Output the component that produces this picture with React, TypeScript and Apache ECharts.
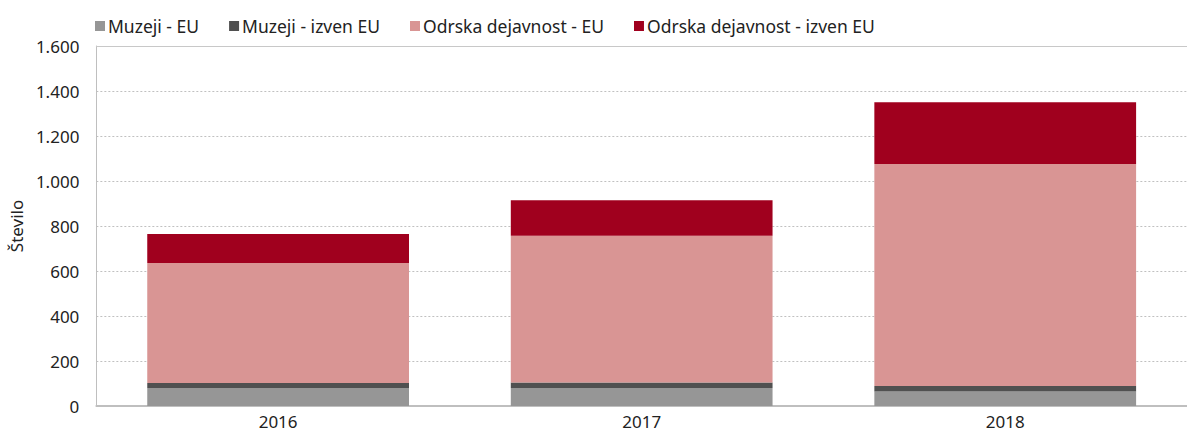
import React, { useEffect, useRef } from "react";
import * as echarts from "echarts";

const categories = ["2016", "2017", "2018"];
const seriesNames = ["Muzeji - EU", "Muzeji - izven EU", "Odrska dejavnost - EU", "Odrska dejavnost - izven EU"];
const muzejiEU = [80, 80, 64];
const muzejiIzven = [22, 25, 25];
const odrskaEU = [534, 652, 987];
const odrskaIzven = [128, 157, 274];
const colors = ["#969696", "#505050", "#d99594", "#a0001e"];
const yTicks = { min: 0, max: 1600, interval: 200 };

const FONT = "'Noto Sans', 'Open Sans', sans-serif";

export default function App() {
  const ref = useRef<HTMLDivElement>(null);
  useEffect(() => {
    document.body.style.margin = "0";
    if (!ref.current) return;
    const chart = echarts.init(ref.current, null, { renderer: "svg" });
    const data = [muzejiEU, muzejiIzven, odrskaEU, odrskaIzven];
    chart.setOption({
      animation: false,
      textStyle: { fontFamily: FONT },
      color: colors,
      legend: {
        left: 90,
        top: 12,
        itemWidth: 10,
        itemHeight: 10,
        itemGap: 30,
        icon: "rect",
        textStyle: { fontSize: 17.5, color: "#222", fontFamily: FONT, padding: [0, 0, 0, -2] },
        data: seriesNames,
      },
      grid: { left: 92, right: 0, top: 46, bottom: 26, containLabel: false },
      xAxis: [
        {
          type: "category",
          data: categories,
          axisLine: { lineStyle: { color: "#bfbfbf", width: 2 } },
          axisTick: { show: false },
          axisLabel: { fontSize: 17, color: "#222", margin: 7, fontFamily: FONT },
        },
        {
          type: "category",
          data: categories,
          position: "top",
          axisLine: { show: true, lineStyle: { color: "#c8c8c8", width: 1 } },
          axisTick: { show: false },
          axisLabel: { show: false },
        },
      ],
      yAxis: {
        type: "value",
        min: yTicks.min,
        max: yTicks.max,
        interval: yTicks.interval,
        name: "Število",
        nameLocation: "middle",
        nameGap: 70,
        nameTextStyle: { fontSize: 17, color: "#222", fontFamily: FONT },
        axisLine: { show: true, lineStyle: { color: "#bfbfbf", width: 1 } },
        axisTick: { show: false },
        axisLabel: {
          fontSize: 17,
          color: "#222",
          margin: 17,
          fontFamily: FONT,
          formatter: (v: number) => v.toString().replace(/\B(?=(\d{3})+(?!\d))/g, "."),
        },
        splitLine: { lineStyle: { color: "#c0c0c0", type: [2, 2], width: 1 } },
      },
      series: seriesNames.map((name, i) => ({
        name,
        type: "bar",
        stack: "total",
        data: data[i],
        barWidth: "72%",
        itemStyle: { color: colors[i] },
      })),
    });
    return () => chart.dispose();
  }, []);
  return <div ref={ref} style={{ width: 1187, height: 432 }} />;
}
